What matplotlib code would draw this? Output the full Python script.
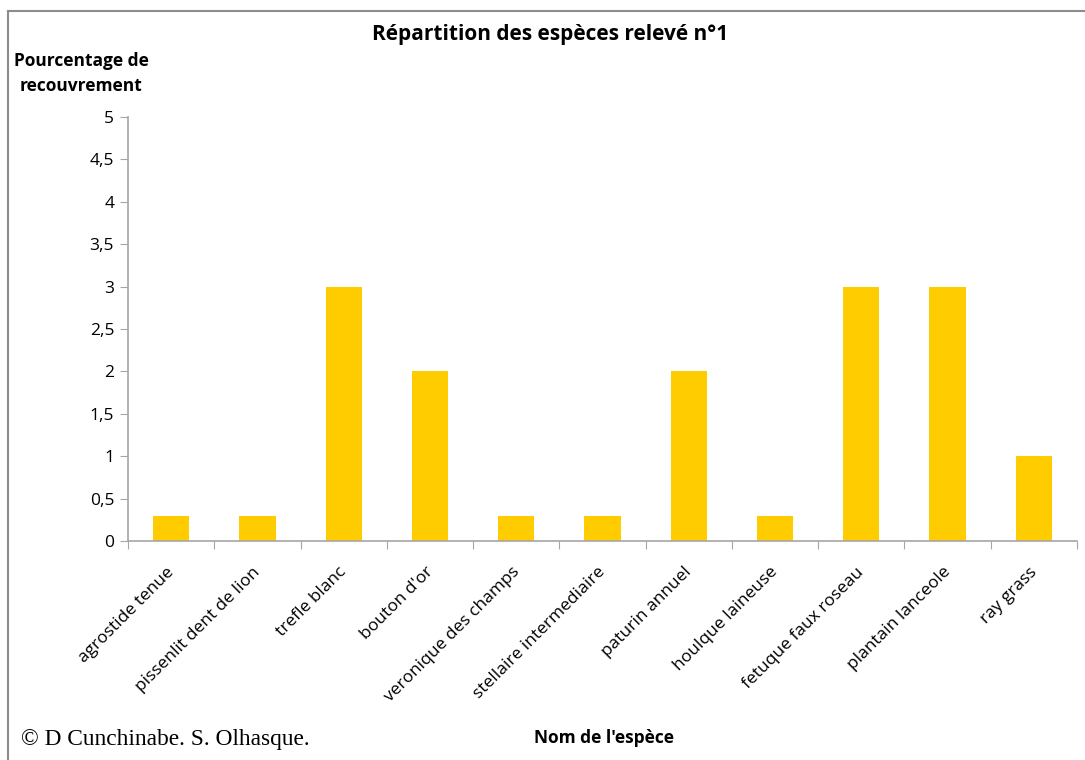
import matplotlib
matplotlib.use("Agg")
import matplotlib.pyplot as plt
import matplotlib.transforms as mtransforms
from matplotlib.ticker import FuncFormatter, MultipleLocator
from matplotlib.lines import Line2D
import numpy as np

# data
especes = ["agrostide tenue", "pissenlit dent de lion", "trefle blanc", "bouton d'or",
           "veronique des champs", "stellaire intermediaire", "paturin annuel",
           "houlque laineuse", "fetuque faux roseau", "plantain lanceole", "ray grass"]
recouvrement = [0.3, 0.3, 3, 2, 0.3, 0.3, 2, 0.3, 3, 3, 1]

plt.rcParams['font.family'] = ['Open Sans', 'DejaVu Sans']

fig = plt.figure(figsize=(10.85, 7.6), dpi=100)
ax = fig.add_axes([0.118, 0.288, 0.8745, 0.558])

x = np.arange(len(especes))
ax.bar(x, recouvrement, width=0.42, color='#FFCC00')

ax.set_xlim(-0.5, len(especes) - 0.5)
ax.set_ylim(0, 5)
ax.yaxis.set_major_locator(MultipleLocator(0.5))
ax.yaxis.set_major_formatter(FuncFormatter(lambda v, p: ('%g' % v).replace('.', ',')))

# ticks between categories
ax.set_xticks(np.arange(-0.5, len(especes), 1.0))
ax.set_xticklabels([])
ax.tick_params(axis='x', length=6, color='#a6a6a6', direction='out')
ax.tick_params(axis='y', length=6, color='#a6a6a6', direction='out', labelsize=12.5, pad=4)

# rotated category names under each bar
lab_trans = ax.get_xaxis_transform() + mtransforms.ScaledTranslation(-0.05, -0.23, fig.dpi_scale_trans)
for xi, nom in zip(x, especes):
    ax.text(xi, 0, nom, transform=lab_trans, rotation=45, ha='right', va='top',
            rotation_mode='anchor', fontsize=12.5, clip_on=False)

for s in ['top', 'right']:
    ax.spines[s].set_visible(False)
for s in ['left', 'bottom']:
    ax.spines[s].set_color('#a6a6a6')
    ax.spines[s].set_linewidth(1.2)

fig.text(0.507, 0.955, "Répartition des espèces relevé n°1", ha='center', va='center',
         fontsize=15, fontweight='bold')
fig.text(0.075, 0.903, "Pourcentage de\nrecouvrement", ha='center', va='center',
         fontsize=12.5, fontweight='bold', linespacing=1.5)
fig.text(0.557, 0.029, "Nom de l'espèce", ha='center', va='center',
         fontsize=12.5, fontweight='bold')
fig.text(0.019, 0.027, "© D Cunchinabe. S. Olhasque.", ha='left', va='center',
         fontsize=16.8, family=['Liberation Serif', 'DejaVu Serif'])

# outer chart frame (left and top edges)
fig.add_artist(Line2D([0.0075, 0.0075], [0.0, 0.986], color='#8c8c8c', lw=1.5))
fig.add_artist(Line2D([0.0075, 1.0], [0.986, 0.986], color='#8c8c8c', lw=1.5))

fig.savefig('out.png', dpi=100)
